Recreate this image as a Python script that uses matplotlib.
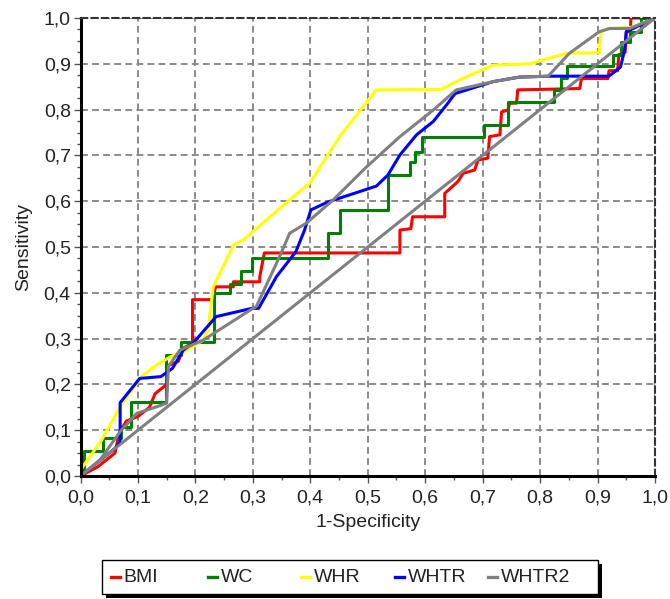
import numpy as np
import matplotlib
matplotlib.use("Agg")
import matplotlib.pyplot as plt
from matplotlib.ticker import MultipleLocator, FuncFormatter
from matplotlib.patches import Rectangle
from matplotlib.lines import Line2D

# ROC curve points (1-specificity, sensitivity)
bmi_x = [0, 0.03, 0.06, 0.065, 0.07, 0.08, 0.10, 0.12, 0.13, 0.15, 0.15, 0.17, 0.18, 0.195,
         0.195, 0.23, 0.235, 0.266, 0.266, 0.312, 0.312, 0.32, 0.556, 0.556, 0.575, 0.578,
         0.634, 0.634, 0.657, 0.666, 0.686, 0.692, 0.709, 0.712, 0.730, 0.733, 0.744, 0.747,
         0.759, 0.761, 0.869, 0.872, 0.918, 0.92, 0.935, 0.937, 0.948, 0.95, 0.957, 0.958, 1.0]
bmi_y = [0, 0.02, 0.05, 0.08, 0.10, 0.12, 0.13, 0.15, 0.18, 0.20, 0.24, 0.25, 0.28, 0.29,
         0.385, 0.385, 0.413, 0.413, 0.424, 0.424, 0.435, 0.487, 0.487, 0.537, 0.54, 0.566,
         0.566, 0.617, 0.643, 0.661, 0.668, 0.690, 0.694, 0.741, 0.745, 0.795, 0.799, 0.814,
         0.814, 0.843, 0.846, 0.868, 0.868, 0.885, 0.885, 0.92, 0.925, 0.97, 0.97, 1.0, 1.0]

wc_x = [0, 0.006, 0.006, 0.04, 0.04, 0.07, 0.07, 0.088, 0.088, 0.148, 0.148, 0.175, 0.175,
        0.232, 0.232, 0.26, 0.26, 0.28, 0.28, 0.298, 0.298, 0.43, 0.43, 0.451, 0.451, 0.535,
        0.535, 0.573, 0.573, 0.582, 0.582, 0.595, 0.595, 0.703, 0.703, 0.744, 0.744, 0.825,
        0.825, 0.837, 0.837, 0.846, 0.846, 0.927, 0.927, 0.94, 0.94, 0.956, 0.956, 0.976,
        0.976, 1.0]
wc_y = [0, 0, 0.055, 0.055, 0.082, 0.082, 0.107, 0.107, 0.162, 0.162, 0.264, 0.264, 0.293,
        0.293, 0.40, 0.40, 0.42, 0.42, 0.447, 0.447, 0.477, 0.477, 0.53, 0.53, 0.581, 0.581,
        0.657, 0.657, 0.686, 0.686, 0.708, 0.708, 0.74, 0.74, 0.766, 0.766, 0.817, 0.817,
        0.843, 0.843, 0.87, 0.87, 0.895, 0.895, 0.92, 0.92, 0.948, 0.948, 0.97, 0.97, 1.0, 1.0]

whr_x = [0, 0.0, 0.037, 0.069, 0.106, 0.132, 0.156, 0.185, 0.214, 0.222, 0.231, 0.254, 0.266,
         0.283, 0.364, 0.399, 0.451, 0.515, 0.628, 0.66, 0.718, 0.782, 0.846, 0.903, 0.906,
         0.918, 0.96, 1.0]
whr_y = [0, 0.013, 0.079, 0.151, 0.217, 0.242, 0.26, 0.275, 0.297, 0.319, 0.413, 0.472, 0.504,
         0.515, 0.603, 0.639, 0.741, 0.843, 0.844, 0.865, 0.897, 0.9, 0.923, 0.924, 0.97,
         0.977, 0.98, 1.0]

whtr_x = [0, 0.03, 0.06, 0.069, 0.069, 0.103, 0.14, 0.16, 0.179, 0.196, 0.216, 0.236, 0.298,
          0.31, 0.341, 0.375, 0.39, 0.401, 0.43, 0.515, 0.535, 0.556, 0.585, 0.614, 0.637,
          0.652, 0.718, 0.764, 0.82, 0.92, 0.94, 0.947, 0.95, 1.0]
whtr_y = [0, 0.03, 0.06, 0.075, 0.16, 0.213, 0.217, 0.235, 0.275, 0.29, 0.319, 0.348, 0.366,
          0.366, 0.435, 0.49, 0.537, 0.581, 0.598, 0.633, 0.657, 0.701, 0.745, 0.774, 0.81,
          0.835, 0.861, 0.871, 0.873, 0.873, 0.893, 0.93, 0.97, 1.0]

whtr2_x = [0, 0.034, 0.069, 0.098, 0.13, 0.15, 0.153, 0.173, 0.214, 0.295, 0.306, 0.341, 0.359,
           0.364, 0.393, 0.44, 0.498, 0.556, 0.614, 0.654, 0.718, 0.764, 0.814, 0.851, 0.903,
           0.921, 0.956, 1.0]
whtr2_y = [0, 0.035, 0.097, 0.137, 0.15, 0.159, 0.239, 0.275, 0.297, 0.362, 0.37, 0.464, 0.515,
           0.53, 0.552, 0.603, 0.675, 0.741, 0.799, 0.843, 0.861, 0.871, 0.873, 0.923, 0.97,
           0.977, 0.977, 1.0]

names = ["BMI", "WC", "WHR", "WHTR", "WHTR2"]
colors = ["#ff0000", "#008000", "#ffff00", "#0000ff", "#808080"]
xs_all = [bmi_x, wc_x, whr_x, whtr_x, whtr2_x]
ys_all = [bmi_y, wc_y, whr_y, whtr_y, whtr2_y]

W, H = 670, 599
TXT = "#222222"
plt.rcParams.update({"font.family": "Liberation Sans", "font.size": 14})
fig = plt.figure(figsize=(W / 100, H / 100), dpi=100)
ax = fig.add_axes([80.5 / W, 1 - 476 / H, 574.5 / W, 458 / H])

for xs, ys, col, lab in zip(xs_all, ys_all, colors, names):
    ax.plot(xs, ys, color=col, lw=2.2, label=lab)
ax.plot([0, 1], [0, 1], color="#808080", lw=2.2)

ax.set_xlim(0, 1)
ax.set_ylim(0, 1)
ax.xaxis.set_major_locator(MultipleLocator(0.1))
ax.yaxis.set_major_locator(MultipleLocator(0.1))
ax.xaxis.set_minor_locator(MultipleLocator(0.05))
ax.yaxis.set_minor_locator(MultipleLocator(0.025))
fmt = FuncFormatter(lambda v, p: f"{v:.1f}".replace(".", ","))
ax.xaxis.set_major_formatter(fmt)
ax.yaxis.set_major_formatter(fmt)
ax.grid(True, which="major", color="#8a8a8a", ls=(0, (3.5, 2.2)), lw=1.4)
ax.set_axisbelow(True)

for s in ["left", "bottom"]:
    ax.spines[s].set_linewidth(2.2)
    ax.spines[s].set_color("black")
for s in ["top", "right"]:
    ax.spines[s].set_linestyle((0, (3, 2)))
    ax.spines[s].set_linewidth(1.5)
    ax.spines[s].set_color("#333333")

ax.tick_params(which="major", length=5, width=1, color="#555555", labelcolor=TXT,
               labelsize=14)
ax.tick_params(axis="x", which="major", pad=5)
ax.tick_params(axis="y", which="major", pad=2)
ax.tick_params(which="minor", length=3, width=1, color="#555555")
ax.set_xlabel("1-Specificity", fontsize=14, color=TXT, labelpad=5)
ax.set_ylabel("Sensitivity", fontsize=14, color=TXT, labelpad=8)

# legend box with black drop shadow, fixed-width columns as in the reference
box_l, box_r, box_t, box_b = 102, 598, 560, 594
fig.patches.append(Rectangle(((box_l + 4) / W, 1 - (box_b + 4) / H), (box_r - box_l) / W,
                             (box_b - box_t) / H, transform=fig.transFigure,
                             facecolor="black", edgecolor="none", zorder=1))
fig.patches.append(Rectangle((box_l / W, 1 - box_b / H), (box_r - box_l) / W,
                             (box_b - box_t) / H, transform=fig.transFigure,
                             facecolor="white", edgecolor="black", lw=1.0, zorder=2))
handle_x = [110.7, 208, 300.7, 395, 488]
ymid = 1 - 577 / H
for hx, col, lab in zip(handle_x, colors, names):
    fig.lines.append(Line2D([hx / W, (hx + 9) / W], [ymid, ymid], color=col, lw=2.4,
                            transform=fig.transFigure, zorder=3))
    fig.text((hx + 13) / W, ymid, lab, ha="left", va="center", fontsize=14, color=TXT,
             zorder=3)

fig.savefig("out.png", dpi=100)
